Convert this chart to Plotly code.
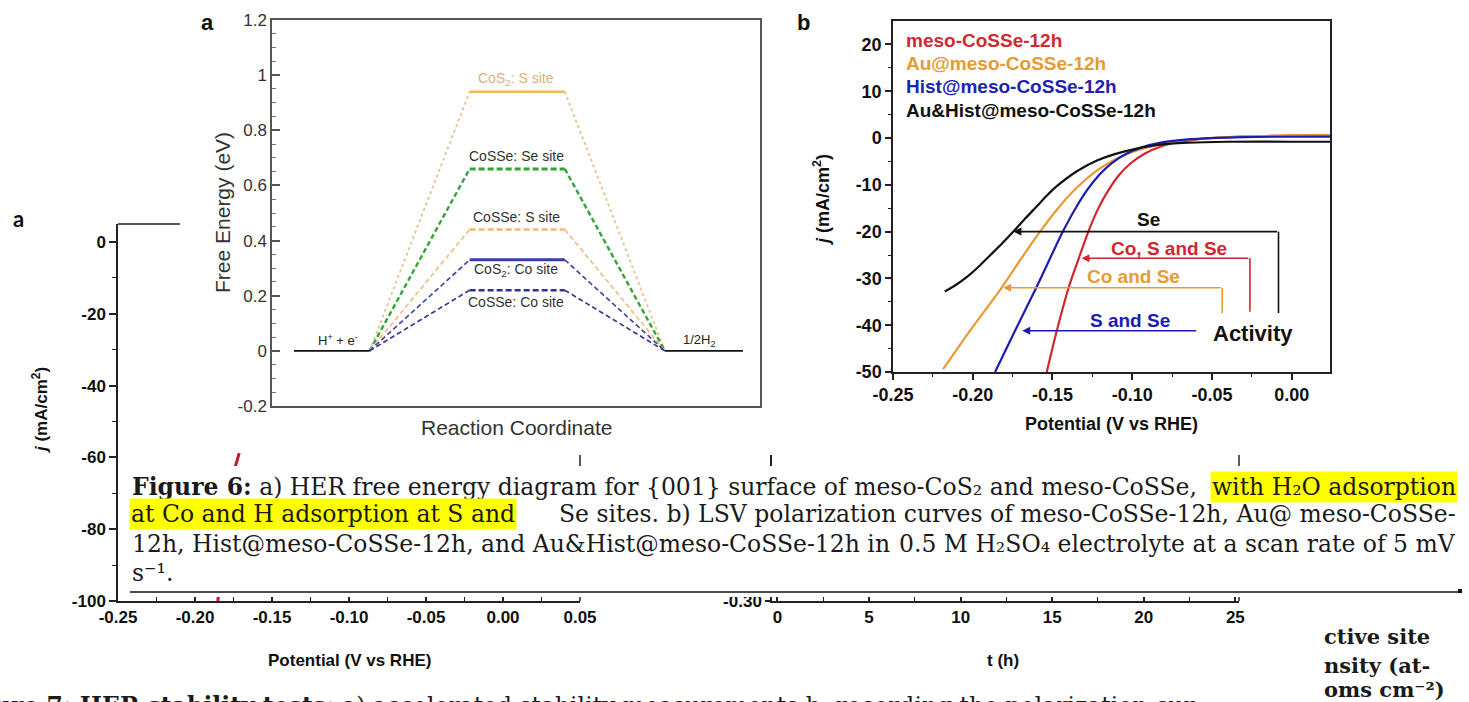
import numpy as np
import plotly.graph_objects as go

W, H = 1469, 702
def px(x): return x / W
def py(y): return 1 - y / H

# ---------------- Figure 6a : free energy diagram ----------------
fe_sites = ["CoS<sub>2</sub>: S site", "CoSSe: Se site", "CoSSe: S site",
            "CoS<sub>2</sub>: Co site", "CoSSe: Co site"]
fe_levels = [0.94, 0.66, 0.44, 0.33, 0.22]
fe_label_y = [0.985, 0.705, 0.484, 0.292, 0.176]
rc_stops = [4.5, 20, 40.5, 60, 80.5, 96.5]          # reaction-coordinate stops
fe_states = ["H<sup>+</sup> + e<sup>-</sup>", "1/2H<sub>2</sub>"]
fe_state_x = [13.5, 87.5]
fe_state_y = [0.04, 0.036]
fe_ticks = [-0.2, 0, 0.2, 0.4, 0.6, 0.8, 1, 1.2]
fe_ticktext = ["-0.2", "0", "0.2", "0.4", "0.6", "0.8", "1", "1.2"]

# ---------------- Figure 6b : LSV curves ----------------
lsv_names = ["meso-CoSSe-12h", "Au@meso-CoSSe-12h", "Hist@meso-CoSSe-12h", "Au&Hist@meso-CoSSe-12h"]
red_x = [-0.1536, -0.1473, -0.1399, -0.1335, -0.1275, -0.1215, -0.1150, -0.1085, -0.101, -0.092, -0.082, -0.07, -0.05, -0.02, 0.024]
red_y = [-50, -41.2, -32.0, -25.7, -20.0, -15.2, -11.2, -8.0, -5.4, -3.3, -1.8, -0.8, 0.0, 0.4, 0.6]
orange_x = [-0.2186, -0.2018, -0.1819, -0.1695, -0.1578, -0.1465, -0.135, -0.1235, -0.112, -0.1, -0.088, -0.075, -0.055, -0.02, 0.024]
orange_y = [-49.4, -41.2, -32.0, -25.7, -20.0, -15.0, -10.7, -7.3, -4.8, -3.0, -1.8, -0.9, -0.1, 0.4, 0.6]
blue_x = [-0.186, -0.1735, -0.1602, -0.1515, -0.1435, -0.1355, -0.128, -0.1205, -0.113, -0.104, -0.094, -0.082, -0.065, -0.03, 0.024]
blue_y = [-50, -41.2, -32.0, -25.7, -20.0, -15.0, -11.0, -7.8, -5.4, -3.4, -2.0, -1.0, -0.3, 0.2, 0.3]
black_x = [-0.2175, -0.2102, -0.2030, -0.1960, -0.1892, -0.1818, -0.1745, -0.1671, -0.1598, -0.1535, -0.1473, -0.1347,
           -0.1221, -0.1053, -0.0844, -0.065, -0.04, 0.0, 0.024]
black_y = [-32.8, -31.3, -29.5, -27.4, -25.1, -22.6, -20.0, -17.2, -14.6, -12.3, -10.3, -7.1,
           -4.8, -2.9, -1.5, -1.0, -0.8, -0.8, -0.8]
lsv_xticks = [-0.25, -0.20, -0.15, -0.10, -0.05, 0.00]
lsv_xticktext = ["-0.25", "-0.20", "-0.15", "-0.10", "-0.05", "0.00"]
lsv_yticks = [-50, -40, -30, -20, -10, 0, 10, 20]
lsv_yticktext = ["-50", "-40", "-30", "-20", "-10", "0", "10", "20"]
legend_y = [20.9, 15.9, 10.9, 5.9]

arrow_labels = ["Se", "Co, S and Se", "Co and Se", "S and Se"]
arrow_y = [-20.0, -25.7, -32.0, -41.2]
arrow_tip_x = [-0.1745, -0.1318, -0.1810, -0.1690]
arrow_right_x = [-0.0083, -0.0262, -0.0436, -0.059]
arrow_bottom_y = [-37.4, -37.1, -37.4, None]
arrow_label_x = [-0.0898, -0.0768, -0.0989, -0.1017]
arrow_label_y = [-17.4, -23.6, -29.6, -38.9]
activity_xy = (-0.024, -41.8)

# ---------------- Figure 7 (background) ----------------
f7a_xticks = [-0.25, -0.20, -0.15, -0.10, -0.05, 0.00, 0.05]
f7a_xticktext = ["-0.25", "-0.20", "-0.15", "-0.10", "-0.05", "0.00", "0.05"]
f7a_yticks = [-100, -80, -60, -40, -20, 0]
f7a_yticktext = ["-100", "-80", "-60", "-40", "-20", "0"]
f7a_red_x = [-0.1713, -0.1745, -0.1852]
f7a_red_y = [-58.8, -63.6, -100]
f7b_xticks = [0, 5, 10, 15, 20, 25]
f7b_yticks = [-0.30]
f7b_yticktext = ["-0.30"]

# ---------------- styles ----------------
plateau_style = [("#f2b45c", "solid", 2.6), ("#34a534", "6px,3px", 3.0), ("#f0b676", "6px,3px", 2.4),
                 ("#3a3aa8", "solid", 3.0), ("#33338e", "6px,3px", 2.4)]
connector_style = [("#e8c28e", "3px,3px", 1.8), ("#34a534", "5px,3px", 2.4), ("#efbf86", "5px,3px", 1.7),
                   ("#4848a4", "5px,3px", 1.7), ("#3a3a92", "5px,3px", 1.7)]
lsv_colors = ["#d12630", "#e89a34", "#1c1cb0", "#111111"]
leg_colors = ["#cf2a34", "#e59a34", "#2222b0", "#111111"]

fig = go.Figure()

# Figure 6a traces
for lvl, (cc, cd, cw) in zip(fe_levels, connector_style):
    fig.add_trace(go.Scatter(x=[rc_stops[1], rc_stops[2], None, rc_stops[3], rc_stops[4]],
                             y=[0, lvl, None, lvl, 0], mode="lines",
                             line=dict(color=cc, dash=cd, width=cw), xaxis="x", yaxis="y"))
for lvl, (pc, pd, pw) in zip(fe_levels, plateau_style):
    fig.add_trace(go.Scatter(x=[rc_stops[2], rc_stops[3]], y=[lvl, lvl], mode="lines",
                             line=dict(color=pc, dash=pd, width=pw), xaxis="x", yaxis="y"))
fig.add_trace(go.Scatter(x=[rc_stops[0], rc_stops[1], None, rc_stops[4], rc_stops[5]],
                         y=[0, 0, None, 0, 0], mode="lines",
                         line=dict(color="#111", width=1.8), xaxis="x", yaxis="y"))

# Figure 6b traces
for xs, ys, c in zip([red_x, orange_x, blue_x, black_x], [red_y, orange_y, blue_y, black_y], lsv_colors):
    fig.add_trace(go.Scatter(x=xs, y=ys, mode="lines", line=dict(color=c, width=2.2, shape="spline", smoothing=0.8),
                             xaxis="x2", yaxis="y2"))
arrow_colors = ["#111111", "#d12630", "#e89a34", "#1c1cb0"]
for rx, yv, yb, c in zip(arrow_right_x, arrow_y, arrow_bottom_y, arrow_colors):
    if yb is not None:
        fig.add_trace(go.Scatter(x=[rx, rx], y=[yv, yb], mode="lines", line=dict(color=c, width=1.6),
                                 xaxis="x2", yaxis="y2"))

# Figure 7 fragment + axis holder for panel b
fig.add_trace(go.Scatter(x=f7a_red_x, y=f7a_red_y, mode="lines", line=dict(color="#c0182c", width=3),
                         xaxis="x3", yaxis="y3"))
fig.add_trace(go.Scatter(x=[None], y=[None], mode="lines", xaxis="x4", yaxis="y4"))

ax_common = dict(showgrid=False, zeroline=False, showline=True, linewidth=1.5, automargin=False)
f_narrow = "Liberation Sans Narrow, Liberation Sans, Arial"
f_b = dict(family="Liberation Sans, Arial", size=18, color="#111", weight="bold")

layout = dict(
    width=W, height=H, margin=dict(l=0, r=0, t=0, b=0), autosize=False,
    paper_bgcolor="white", plot_bgcolor="rgba(0,0,0,0)", showlegend=False,
    xaxis=dict(**ax_common, domain=[px(272), px(760)], range=[0, 100], mirror=True, linecolor="#555",
               ticks="", showticklabels=False, anchor="y"),
    yaxis=dict(**ax_common, domain=[py(406), py(20)], range=[-0.2, 1.2], mirror=True, linecolor="#555",
               tickvals=fe_ticks, ticktext=fe_ticktext, ticks="inside", ticklen=8, tickwidth=1.5, tickcolor="#555",
               minor=dict(tickvals=list(np.round(np.arange(-0.2, 1.21, 0.05), 3)), ticks="inside", ticklen=4,
                          tickcolor="#777", tickwidth=1),
               tickfont=dict(family="Liberation Sans, Arial", size=17, color="#333"), anchor="x"),
    xaxis2=dict(**ax_common, domain=[px(893), px(1330)], range=[-0.25, 0.024], mirror=True, linecolor="#222",
                tickvals=lsv_xticks, ticktext=lsv_xticktext, ticks="outside", ticklen=6, tickwidth=1.5, tickcolor="#222",
                minor=dict(tickvals=list(np.round(np.arange(-0.225, 0.02, 0.05), 3)), ticks="outside", ticklen=3,
                           tickcolor="#222", tickwidth=1.2),
                tickfont=f_b, anchor="y2"),
    yaxis2=dict(**ax_common, domain=[py(372), py(21)], range=[-50, 25], mirror=True, linecolor="#222",
                tickvals=lsv_yticks, ticktext=lsv_yticktext, ticks="outside", ticklen=6, tickwidth=1.5, tickcolor="#222",
                minor=dict(tickvals=list(range(-45, 25, 10)), ticks="outside", ticklen=3, tickcolor="#222", tickwidth=1.2),
                tickfont=f_b, anchor="x2"),
    xaxis3=dict(**ax_common, domain=[px(118), px(580)], range=[-0.25, 0.05], linecolor="#222",
                tickvals=f7a_xticks, ticktext=f7a_xticktext, ticks="inside", ticklen=6, tickwidth=1.5, tickcolor="#222",
                minor=dict(tickvals=list(np.round(np.arange(-0.225, 0.05, 0.05), 3)), ticks="inside", ticklen=4,
                           tickcolor="#222", tickwidth=1.2),
                tickfont=dict(family=f_narrow, size=17, color="#111", weight="bold"), anchor="y3"),
    yaxis3=dict(**ax_common, domain=[py(601), py(224)], range=[-100, 5], linecolor="#222",
                tickvals=f7a_yticks, ticktext=f7a_yticktext, ticks="outside", ticklen=7, tickwidth=1.5, tickcolor="#222",
                minor=dict(tickvals=list(range(-90, 5, 20)), ticks="outside", ticklen=4, tickcolor="#222", tickwidth=1.2),
                tickfont=dict(family=f_narrow, size=17, color="#111", weight="bold"), anchor="x3"),
    xaxis4=dict(**ax_common, domain=[px(772), px(1239)], range=[-0.3, 25.2], linecolor="#222",
                tickvals=f7b_xticks, ticks="inside", ticklen=6, tickwidth=1.5, tickcolor="#222",
                minor=dict(tickvals=[2.5, 7.5, 12.5, 17.5, 22.5], ticks="inside", ticklen=4, tickcolor="#222", tickwidth=1.2),
                tickfont=dict(family=f_narrow, size=17, color="#111", weight="bold"), anchor="y4"),
    yaxis4=dict(**ax_common, domain=[py(601), py(455)], range=[-0.30, -0.20], linecolor="#222",
                tickvals=f7b_yticks, ticktext=f7b_yticktext, ticks="outside", ticklen=5, tickwidth=1.5, tickcolor="#222",
                tickfont=dict(family=f_narrow, size=17, color="#111", weight="bold"), anchor="x4"),
)
fig.update_layout(**layout)

ann = []
def pann(x, y, text, size, color="#111", family="Liberation Sans, Arial", xanchor="center", yanchor="middle",
         angle=0, weight="normal", bg=None):
    d = dict(x=px(x), y=py(y), xref="paper", yref="paper", text=text, showarrow=False,
             xanchor=xanchor, yanchor=yanchor, textangle=angle,
             font=dict(family=family, size=size, color=color, weight=weight))
    if bg:
        d.update(bgcolor=bg, borderpad=1)
    ann.append(d)

# Fig 6a labels
label_colors = ["#d8b27e", "#333", "#333", "#333", "#333"]
for s, ly, c in zip(fe_sites, fe_label_y, label_colors):
    ann.append(dict(x=50, y=ly, xref="x", yref="y", text=s, showarrow=False,
                    font=dict(family="Liberation Sans, Arial", size=14, color=c)))
for s, sx, sy in zip(fe_states, fe_state_x, fe_state_y):
    ann.append(dict(x=sx, y=sy, xref="x", yref="y", text=s, showarrow=False,
                    font=dict(family="Liberation Sans, Arial", size=13, color="#222")))
pann(222, 213, "Free Energy (eV)", 21, "#333", angle=-90)
pann(516, 427, "Reaction Coordinate", 21, "#333")
pann(207, 22, "a", 22, "#111", weight="bold")
pann(803, 22, "b", 22, "#111", weight="bold")

# Fig 6b labels
for name, ly, c in zip(lsv_names, legend_y, leg_colors):
    ann.append(dict(x=-0.2434, y=ly, xref="x2", yref="y2", text=name, showarrow=False, xanchor="left",
                    font=dict(family="Liberation Sans, Arial", size=19, color=c, weight="bold")))
for lab, lx, ly, c in zip(arrow_labels, arrow_label_x, arrow_label_y, arrow_colors):
    ann.append(dict(x=lx, y=ly, xref="x2", yref="y2", text=lab, showarrow=False,
                    font=dict(family="Liberation Sans, Arial", size=19, color=c, weight="bold")))
for tx, rx, yv, c in zip(arrow_tip_x, arrow_right_x, arrow_y, arrow_colors):
    ann.append(dict(x=tx, y=yv, xref="x2", yref="y2", ax=rx, ay=yv, axref="x2", ayref="y2", text="",
                    showarrow=True, arrowhead=2, arrowsize=1, arrowwidth=1.6, arrowcolor=c, standoff=0))
ann.append(dict(x=activity_xy[0], y=activity_xy[1], xref="x2", yref="y2", text="Activity", showarrow=False,
                font=dict(family="Liberation Sans, Arial", size=22, color="#111", weight="bold")))
pann(822, 200, "<i>j</i> (mA/cm<sup>2</sup>)", 18, "#111", angle=-90, weight="bold")
pann(1111, 424, "Potential (V vs RHE)", 18, "#111", weight="bold")

# Fig 7 labels
pann(18, 218, "a", 22, "#111", family="Lato, Liberation Sans", weight="bold")
pann(40, 410, "<i>j</i> (mA/cm<sup>2</sup>)", 17, "#111", angle=-90, weight="bold")
pann(349, 660, "Potential (V vs RHE)", 17, "#111", weight="bold")
pann(1003, 660, "t (h)", 17, "#111", weight="bold")

# Caption
cf = "DejaVu Serif, Liberation Serif, serif"
cs = 23.5
cc = "#1a1a1a"
pann(130, 487, "<b>Figure 6:</b> a) HER free energy diagram for {001} surface of meso-CoS₂ and meso-CoSSe,", cs, cc, family=cf, xanchor="left")
pann(1458, 487, "with H₂O adsorption", cs, cc, family=cf, xanchor="right", bg="#ffff00")
pann(129, 514, "at Co and H adsorption at S and", cs, cc, family=cf, xanchor="left", bg="#ffff00")
pann(1458, 514, "Se sites. b) LSV polarization curves of meso-CoSSe-12h, Au@ meso-CoSSe-", cs, cc, family=cf, xanchor="right")
pann(130, 544, "12h, Hist@meso-CoSSe-12h, and Au&Hist@meso-CoSSe-12h in", cs, cc, family=cf, xanchor="left")
pann(1458, 544, "0.5 M H₂SO₄ electrolyte at a scan rate of 5 mV", cs, cc, family=cf, xanchor="right")
pann(130, 573, "s⁻¹.", cs, cc, family=cf, xanchor="left")

# bottom text fragments
pann(-8, 690, "<b>ure 7: HER stability tests:</b> a) accelerated stability measurements b, recording the polarization cur",
     cs, cc, family=cf, xanchor="left", yanchor="top")
pann(1322, 636, "ctive site", 21, cc, family=cf, xanchor="left", weight="bold")
pann(1322, 665, "nsity (at-", 21, cc, family=cf, xanchor="left", weight="bold")
pann(1322, 689, "oms cm⁻²)", 21, cc, family=cf, xanchor="left", weight="bold")

fig.update_layout(annotations=ann)

shapes = [
    dict(type="line", xref="paper", yref="paper", x0=px(118), x1=px(180), y0=py(224), y1=py(224),
         line=dict(color="#222", width=1.5)),
    dict(type="line", xref="paper", yref="paper", x0=px(580), x1=px(580), y0=py(455), y1=py(601),
         line=dict(color="#222", width=1.5)),
    dict(type="line", xref="paper", yref="paper", x0=px(1239), x1=px(1239), y0=py(455), y1=py(601),
         line=dict(color="#222", width=1.5)),
    dict(type="rect", xref="paper", yref="paper", x0=px(126), x1=1.0, y0=py(597), y1=py(466),
         fillcolor="white", line=dict(width=0), layer="above"),
    dict(type="line", xref="paper", yref="paper", x0=px(130), x1=px(1458), y0=py(592), y1=py(592),
         line=dict(color="#111", width=1.5), layer="above"),
    dict(type="rect", xref="paper", yref="paper", x0=px(1458), x1=px(1462), y0=py(593), y1=py(589),
         fillcolor="#111", line=dict(width=0), layer="above"),
]
fig.update_layout(shapes=shapes)

fig.write_html("out.html", config={"displayModeBar": False},
               post_script="document.body.style.margin='0px';document.body.style.overflow='hidden';")
